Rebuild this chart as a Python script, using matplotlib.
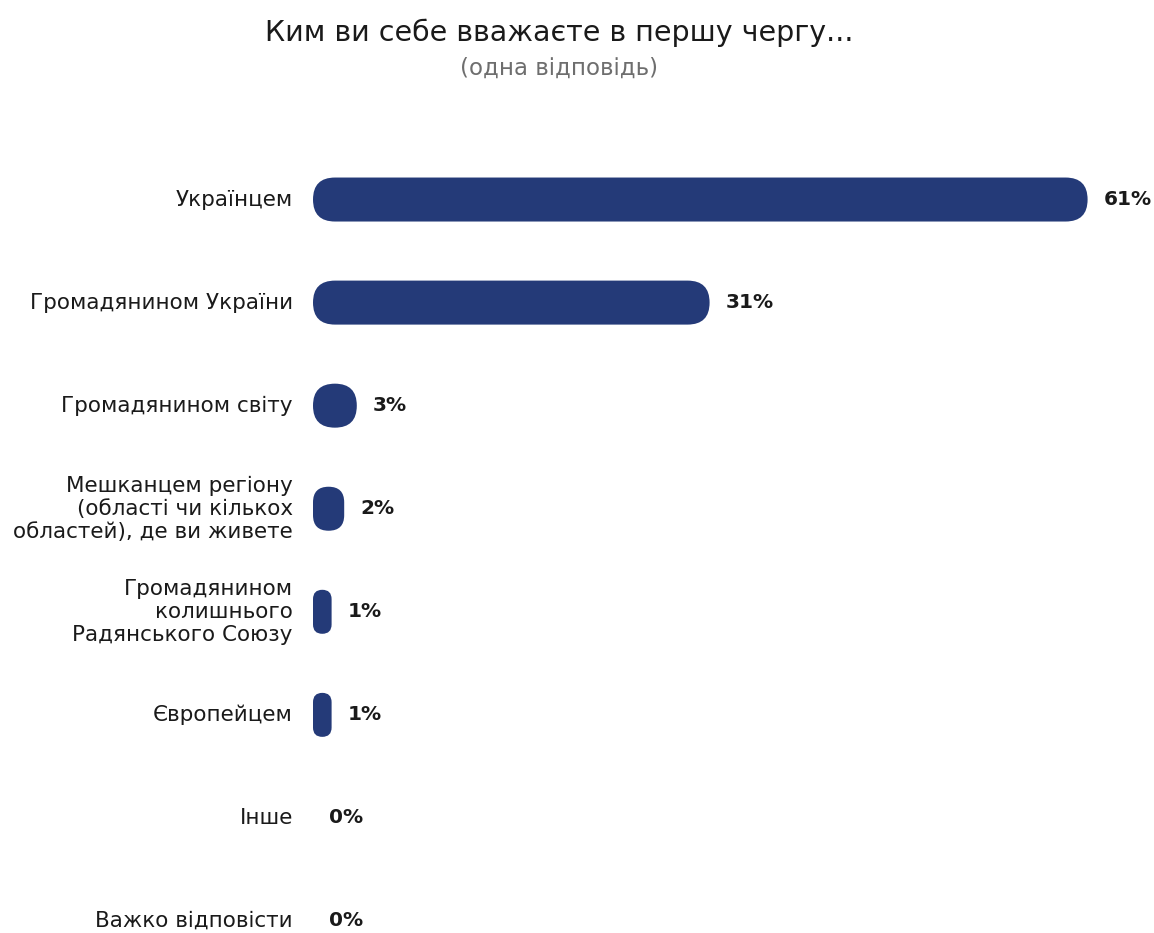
import matplotlib.pyplot as plt
from matplotlib.patches import FancyBboxPatch

plt.rcParams['font.family'] = ['DejaVu Sans']

TITLE = 'Ким ви себе вважаєте в першу чергу...'
SUBTITLE = '(одна відповідь)'

categories = [
    'Українцем',
    'Громадянином України',
    'Громадянином світу',
    'Мешканцем регіону\n(області чи кількох\nобластей), де ви живете',
    'Громадянином\nколишнього\nРадянського Союзу',
    'Європейцем',
    'Інше',
    'Важко відповісти',
]
values = [61, 31, 3, 2, 1, 1, 0, 0]
value_labels = ['61%', '31%', '3%', '2%', '1%', '1%', '0%', '0%']

BAR_COLOR = '#243a78'
W, H = 1154, 933
PX_PER_PCT = 12.6
CAP_PX = 6       # extra rounded-end length added to every non-zero bar
XMAX = 66

fig = plt.figure(figsize=(W / 100, H / 100), dpi=100)
top_px = 148
ax = fig.add_axes([313 / W, 0, XMAX * PX_PER_PCT / W, (H - top_px) / H])
ax.set_xlim(0, XMAX)
ax.set_ylim(7 + 12 / 103, -0.5)
ax.axis('off')

px_per_row = (H - top_px) / (7 + 12 / 103 + 0.5)
bar_h_px = 44
bar_h = bar_h_px / px_per_row
aspect = PX_PER_PCT / px_per_row

for i, (v, lab) in enumerate(zip(values, value_labels)):
    xt = v
    if v > 0:
        w = v + CAP_PX / PX_PER_PCT
        r_px = min(w * PX_PER_PCT, bar_h_px) / 2
        patch = FancyBboxPatch((0, i - bar_h / 2), w, bar_h,
                               boxstyle=f'round,pad=0,rounding_size={r_px / PX_PER_PCT}',
                               mutation_aspect=aspect,
                               facecolor=BAR_COLOR, edgecolor='none')
        ax.add_patch(patch)
        xt = w
    ax.annotate(lab, (xt, i), xytext=(11.5, 0), textcoords='offset points',
                ha='left', va='center', fontsize=14.5, fontweight='bold',
                color='#1a1a1a', annotation_clip=False)
    ax.annotate(categories[i], (0, i), xytext=(-14.5, 0), textcoords='offset points',
                ha='right', va='center', fontsize=15.5, color='#1a1a1a',
                linespacing=1.2, multialignment='right', annotation_clip=False)

fig.text(559 / W, 1 - 33 / H, TITLE, ha='center', va='center', fontsize=20.5, color='#1a1a1a')
fig.text(559 / W, 1 - 68 / H, SUBTITLE, ha='center', va='center', fontsize=16.5, color='#6e6e6e')

fig.savefig('out.png', dpi=100)
